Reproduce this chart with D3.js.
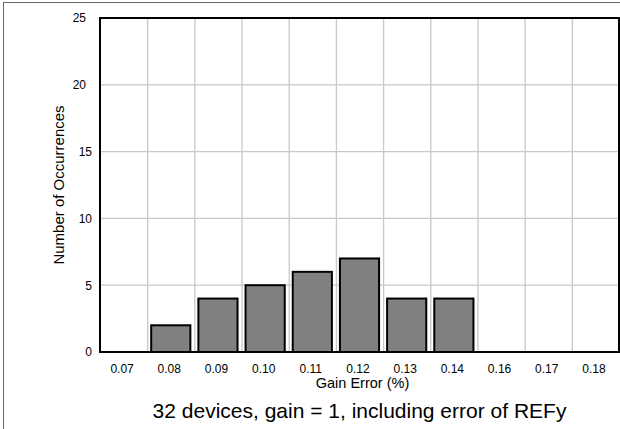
<!DOCTYPE html>
<html><head><meta charset="utf-8">
<script src="https://cdn.jsdelivr.net/npm/d3@7"></script>
<style>body{margin:0;background:#fff}svg{display:block}text{font-family:"Liberation Sans",Arial,sans-serif;fill:#000}</style>
</head><body><svg id="c" width="620" height="429"></svg>
<script>
const categories = ["0.07","0.08","0.09","0.10","0.11","0.12","0.13","0.14","0.16","0.17","0.18"];
const counts = [0,2,4,5,6,7,4,4,0,0,0];
const yTicks = [0,5,10,15,20,25];
const xTitle = "Gain Error (%)";
const yTitle = "Number of Occurrences";
const caption = "32 devices, gain = 1, including error of REFy";

const FF = "Liberation Sans, Arial, sans-serif";
const svg = d3.select("#c");
const m = {l:100, t:18, r:619, b:352};
svg.append("rect").attr("x",3.5).attr("y",2.5).attr("width",640).attr("height",440)
  .attr("fill","none").attr("stroke","#666").attr("stroke-width",1);

const x = d3.scaleBand().domain(categories).range([m.l,m.r]).paddingInner(0.17).paddingOuter(0.085);
const xg = d3.scaleBand().domain(categories).range([m.l,m.r]);
const y = d3.scaleLinear().domain([0,25]).range([m.b,m.t]);

// grid
svg.append("g").selectAll("line").data(categories.slice(1)).join("line")
  .attr("x1",d=>xg(d)+0.5).attr("x2",d=>xg(d)+0.5).attr("y1",m.t).attr("y2",m.b)
  .attr("stroke","#c8c8c8").attr("stroke-width",1.3);
svg.append("g").selectAll("line").data(yTicks.slice(1,-1)).join("line")
  .attr("x1",m.l).attr("x2",m.r).attr("y1",d=>y(d)).attr("y2",d=>y(d))
  .attr("stroke","#c8c8c8").attr("stroke-width",1.3);

// bars
svg.append("g").selectAll("rect").data(categories.map((c,i)=>({c,v:counts[i]})).filter(d=>d.v>0)).join("rect")
  .attr("x",d=>x(d.c)).attr("width",x.bandwidth())
  .attr("y",d=>y(d.v)).attr("height",d=>y(0)-y(d.v))
  .attr("fill","#808080").attr("stroke","#000").attr("stroke-width",2);

// frame
svg.append("rect").attr("x",m.l).attr("y",m.t).attr("width",m.r-m.l).attr("height",m.b-m.t)
  .attr("fill","none").attr("stroke","#000").attr("stroke-width",2);

// axes
const ya = d3.axisLeft(y).tickValues(yTicks).tickSize(0).tickPadding(8);
svg.append("g").attr("transform",`translate(${m.l},0)`).call(ya)
  .call(g=>g.select(".domain").remove())
  .selectAll("text").style("font-size","12px").style("font-family",FF)
  .attr("dx",d=>d>=20?-6:0);
const xa = d3.axisBottom(xg).tickSize(0).tickPadding(12);
svg.append("g").attr("transform",`translate(0,${m.b})`).call(xa)
  .call(g=>g.select(".domain").remove())
  .selectAll("text").style("font-size","12px").style("font-family",FF).attr("dx",-1.5);

svg.append("text").attr("x",(m.l+m.r)/2+3).attr("y",388).attr("text-anchor","middle")
  .style("font-size","14.5px").text(xTitle);
svg.append("text").attr("transform",`translate(64,${(m.t+m.b)/2}) rotate(-90)`).attr("text-anchor","middle")
  .style("font-size","15px").text(yTitle);
svg.append("text").attr("x",(m.l+m.r)/2).attr("y",418).attr("text-anchor","middle")
  .style("font-size","21px").text(caption);
</script></body></html>
